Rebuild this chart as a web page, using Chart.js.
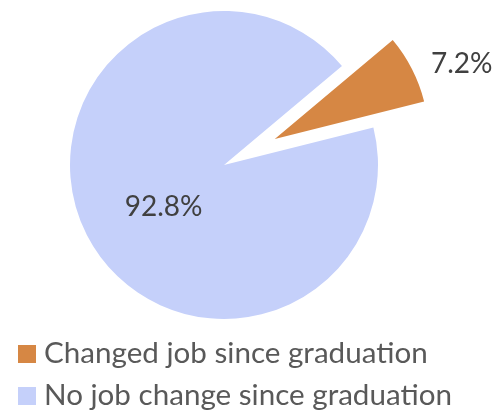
<!DOCTYPE html>
<html>
<head>
<meta charset="utf-8">
<script src="https://cdn.jsdelivr.net/npm/chart.js@4.4.1/dist/chart.umd.min.js"></script>
<style>
  html, body { margin: 0; padding: 0; background: #ffffff; }
  #wrap { width: 499px; height: 410px; }
</style>
</head>
<body>
<div id="wrap"><canvas id="c" width="499" height="410"></canvas></div>
<script>
// ---- data ----
const categories = ['Changed job since graduation', 'No job change since graduation'];
const shares = [7.2, 92.8];
const sliceColors = ['#D68744', '#C5D0FA'];
const valueLabels = ['7.2%', '92.8%'];

// ---- styles ----
const FONT = 'Lato, "Open Sans", sans-serif';
const labelFontSize = 28;
const legendFontSize = 29.6;
const labelColor = '#404040';
const legendColor = '#595959';
const explode = [57, 0]; // px the slice is pulled out of the pie
// label placement relative to pie centre: angle shift (deg) from slice mid, distance as fraction of radius
const labelPlacement = [{ shift: 3.8, dist: 1.68 }, { shift: -7.2, dist: 0.474 }];

function pieCentre(chart) {
  const a = chart.chartArea;
  return { x: (a.left + a.right) / 2, y: (a.top + a.bottom) / 2 };
}

const explodePlugin = {
  id: 'explodeSlices',
  beforeDatasetsDraw(chart) {
    const c = pieCentre(chart);
    chart.getDatasetMeta(0).data.forEach((arc, i) => {
      const mid = (arc.startAngle + arc.endAngle) / 2;
      arc.x = c.x + Math.cos(mid) * explode[i];
      arc.y = c.y + Math.sin(mid) * explode[i];
    });
  }
};

const valueLabelPlugin = {
  id: 'valueLabels',
  afterDatasetsDraw(chart) {
    const ctx = chart.ctx;
    const c = pieCentre(chart);
    const meta = chart.getDatasetMeta(0);
    ctx.save();
    ctx.font = labelFontSize + 'px ' + FONT;
    ctx.fillStyle = labelColor;
    ctx.textAlign = 'center';
    ctx.textBaseline = 'alphabetic';
    meta.data.forEach((arc, i) => {
      const mid = (arc.startAngle + arc.endAngle) / 2 + labelPlacement[i].shift * Math.PI / 180;
      const d = labelPlacement[i].dist * arc.outerRadius;
      const x = c.x + Math.cos(mid) * d;
      const y = c.y + Math.sin(mid) * d;
      ctx.fillText(valueLabels[i], x, y + labelFontSize * 0.36);
    });
    ctx.restore();
  }
};

const legendPlugin = {
  id: 'stackedLegend',
  afterDraw(chart) {
    const ctx = chart.ctx;
    ctx.save();
    ctx.font = legendFontSize + 'px ' + FONT;
    ctx.textAlign = 'left';
    ctx.textBaseline = 'alphabetic';
    const top = chart.chartArea.bottom + 15;
    categories.forEach((name, i) => {
      const boxTop = top + i * 42;
      ctx.fillStyle = sliceColors[i];
      ctx.fillRect(18, boxTop, 18, 18);
      ctx.fillStyle = legendColor;
      ctx.fillText(name, 44, boxTop + 18);
    });
    ctx.restore();
  }
};

new Chart(document.getElementById('c'), {
  type: 'pie',
  data: {
    labels: categories,
    datasets: [{
      data: shares,
      backgroundColor: sliceColors,
      borderWidth: 0,
      radius: 154
    }]
  },
  options: {
    responsive: false,
    animation: false,
    rotation: 50,
    layout: { padding: { left: 0, top: 0, right: 51, bottom: 80 } },
    plugins: {
      legend: { display: false },
      tooltip: { enabled: false }
    }
  },
  plugins: [explodePlugin, valueLabelPlugin, legendPlugin]
});
</script>
</body>
</html>
